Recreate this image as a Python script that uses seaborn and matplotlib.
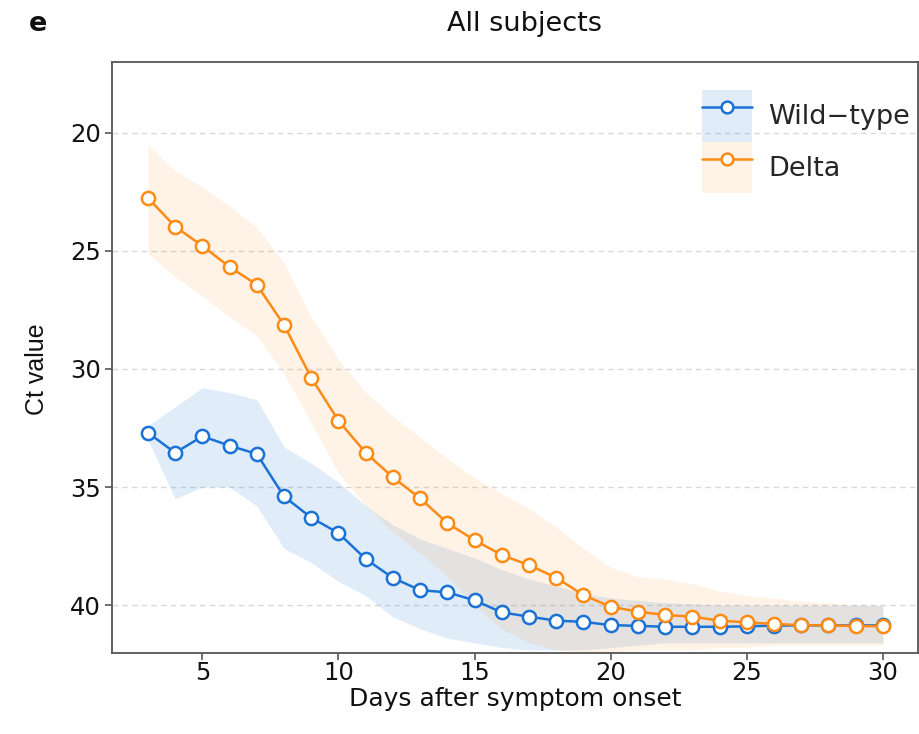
import numpy as np
import pandas as pd
import matplotlib
matplotlib.use("Agg")
import matplotlib.pyplot as plt
import seaborn as sns
from matplotlib.patches import Patch
from matplotlib.lines import Line2D

days = list(range(3, 31))

wild_mean = [32.7, 33.55, 32.85, 33.25, 33.6, 35.4, 36.3, 36.95, 38.05, 38.85, 39.37,
             39.46, 39.8, 40.31, 40.49, 40.66, 40.71, 40.85, 40.88, 40.92, 40.92,
             40.92, 40.9, 40.87, 40.86, 40.86, 40.86, 40.86]
wild_low = [32.4, 31.6, 30.8, 31.0, 31.3, 33.3, 34.0, 34.8, 35.8, 36.6, 37.2,
            37.6, 38.0, 38.5, 38.9, 39.2, 39.5, 39.7, 39.8, 39.9, 39.95,
            40.0, 40.0, 40.0, 40.0, 40.0, 40.0, 40.0]
wild_high = [33.0, 35.5, 35.0, 35.0, 35.8, 37.6, 38.2, 39.0, 39.6, 40.5, 41.0,
             41.4, 41.6, 41.8, 41.9, 41.9, 41.9, 41.8, 41.7, 41.6, 41.6,
             41.6, 41.6, 41.6, 41.6, 41.6, 41.6, 41.6]

delta_mean = [22.76, 23.97, 24.79, 25.68, 26.43, 28.14, 30.37, 32.19, 33.55, 34.59, 35.48,
              36.53, 37.25, 37.88, 38.31, 38.84, 39.58, 40.07, 40.28, 40.42, 40.49,
              40.66, 40.73, 40.8, 40.85, 40.86, 40.89, 40.89]
delta_low = [20.5, 21.6, 22.3, 23.1, 24.0, 25.5, 27.8, 29.6, 31.0, 32.0, 32.9,
             33.8, 34.6, 35.3, 35.9, 36.7, 37.6, 38.4, 38.8, 38.9, 39.1,
             39.4, 39.6, 39.7, 39.85, 39.9, 40.0, 40.05]
delta_high = [25.1, 26.1, 26.9, 27.8, 28.6, 30.2, 32.3, 34.4, 35.8, 36.9, 37.8,
              38.8, 40.0, 41.0, 41.6, 41.9, 42.0, 42.0, 41.9, 41.9, 41.9,
              41.8, 41.8, 41.7, 41.7, 41.7, 41.7, 41.7]

series_names = ["Wild\u2212type", "Delta"]
x_ticks = [5, 10, 15, 20, 25, 30]
y_ticks = [20, 25, 30, 35, 40]

BLUE = "#1a72d6"
ORANGE = "#ff8a14"
FS = 17.5

df = pd.DataFrame({
    "day": days * 2,
    "ct": wild_mean + delta_mean,
    "variant": [series_names[0]] * len(days) + [series_names[1]] * len(days),
})

sns.set_style("white")
plt.rcParams["font.family"] = ["DejaVu Sans"]

fig = plt.figure(figsize=(9.2, 7.34), dpi=100)
ax = fig.add_axes([112 / 920, 1 - 653 / 734, 806 / 920, 591 / 734])

ax.fill_between(days, wild_low, wild_high, color=BLUE, alpha=0.13, linewidth=0, zorder=1)
ax.fill_between(days, delta_low, delta_high, color=ORANGE, alpha=0.10, linewidth=0, zorder=1)

for name, col, z in [(series_names[0], BLUE, 3), (series_names[1], ORANGE, 4)]:
    sub = df[df["variant"] == name]
    sns.lineplot(data=sub, x="day", y="ct", ax=ax, color=col, linewidth=1.8,
                 marker="o", markersize=9.5, markerfacecolor="white",
                 markeredgecolor=col, markeredgewidth=1.8, zorder=z, legend=False)

ax.set_xlim(1.68, 31.29)
ax.set_ylim(42.03, 17.0)
ax.set_xticks(x_ticks)
ax.set_yticks(y_ticks)
ax.yaxis.grid(True, linestyle=(0, (4, 3)), color="#d9d9d9", linewidth=1.0)
ax.xaxis.grid(False)
ax.set_axisbelow(True)

for s in ax.spines.values():
    s.set_color("#555555")
    s.set_linewidth(1.3)

ax.tick_params(axis="both", which="both", direction="out", length=5, width=1.2,
               color="#555555", labelsize=FS, pad=3, labelcolor="#111111")
ax.tick_params(axis="x", bottom=True, pad=1)
ax.tick_params(axis="y", left=True)

ax.set_xlabel("Days after symptom onset", fontsize=18, color="#111111")
ax.set_ylabel("Ct value", fontsize=18, color="#111111", family="Liberation Sans")
ax.xaxis.set_label_coords(0.5, -0.058)
ax.yaxis.set_label_coords(-0.078, 0.48)

fig.text(525 / 920, 1 - 24 / 734, "All subjects", fontsize=19.5, ha="center", va="center",
         color="#111111")
fig.text(38 / 920, 1 - 24 / 734, "e", fontsize=19.5, fontweight="bold", ha="center",
         va="center", color="#111111")

handles = [
    (Patch(facecolor=BLUE, alpha=0.13, edgecolor="none"),
     Line2D([], [], color=BLUE, linewidth=1.8, marker="o", markersize=8.5,
            markerfacecolor="white", markeredgecolor=BLUE, markeredgewidth=1.8)),
    (Patch(facecolor=ORANGE, alpha=0.10, edgecolor="none"),
     Line2D([], [], color=ORANGE, linewidth=1.8, marker="o", markersize=8.5,
            markerfacecolor="white", markeredgecolor=ORANGE, markeredgewidth=1.8)),
]
ax.legend(handles, series_names, loc="upper left", bbox_to_anchor=(0.732, 0.9526),
          frameon=False, fontsize=19.5, handlelength=1.85, handleheight=2.55,
          labelspacing=0.0, handletextpad=0.6, borderaxespad=0.0, borderpad=0.0)

fig.savefig("out.png", dpi=100)
